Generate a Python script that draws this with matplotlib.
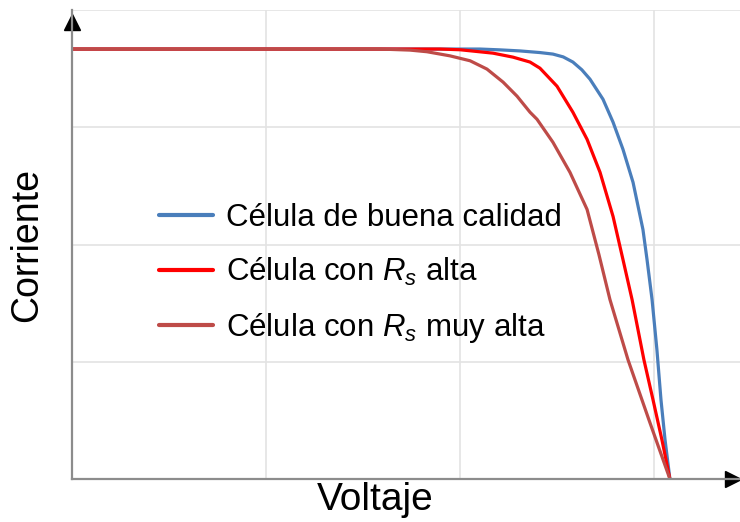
import numpy as np
import matplotlib.pyplot as plt

plt.rcParams['font.family'] = ['Liberation Sans', 'DejaVu Sans']
plt.rcParams['mathtext.fontset'] = 'custom'
plt.rcParams['mathtext.rm'] = 'Liberation Sans'
plt.rcParams['mathtext.it'] = 'Liberation Sans:italic'

# voltage / current (grid units)
v_good = [0, 2.103, 2.206, 2.309, 2.412, 2.479, 2.532, 2.582, 2.628, 2.670, 2.737, 2.789,
          2.840, 2.892, 2.943, 2.964, 2.990, 3.015, 3.036, 3.057, 3.082]
i_good = [3.667, 3.667, 3.660, 3.651, 3.637, 3.624, 3.600, 3.556, 3.490, 3.410, 3.239, 3.043,
          2.812, 2.530, 2.128, 1.872, 1.530, 1.103, 0.675, 0.333, 0.0]

v_high = [0, 1.897, 2.000, 2.170, 2.273, 2.361, 2.412, 2.500, 2.582, 2.655, 2.722,
          2.789, 2.840, 2.887, 2.948, 2.995, 3.041, 3.082]
i_high = [3.667, 3.667, 3.661, 3.632, 3.598, 3.556, 3.504, 3.350, 3.128, 2.897, 2.615,
          2.239, 1.872, 1.530, 1.017, 0.675, 0.333, 0.0]

v_very = [0, 1.588, 1.742, 1.830, 1.948, 2.052, 2.139, 2.222, 2.294, 2.361, 2.397,
          2.479, 2.567, 2.655, 2.716, 2.773, 2.866, 2.974, 3.082]
i_very = [3.667, 3.667, 3.658, 3.644, 3.609, 3.567, 3.496, 3.385, 3.265, 3.128, 3.068,
          2.872, 2.615, 2.299, 1.915, 1.530, 1.017, 0.504, 0.0]

labels = ['Célula de buena calidad', 'Célula con $R_s$ alta', 'Célula con $R_s$ muy alta']
colors = ['#4a7ebb', '#ff0000', '#be4b48']

fig = plt.figure(figsize=(7.4, 5.22), dpi=100)
ax = fig.add_axes([72/740, 43/522, 668/740, 469/522])

for v, i, lab, c in zip([v_good, v_high, v_very], [i_good, i_high, i_very], labels, colors):
    ax.plot(v, i, color=c, lw=2.3, label=lab, solid_capstyle='round', solid_joinstyle='round')

ax.set_xlim(0, 668/194)
ax.set_ylim(0, 4)
ax.set_xticks([1, 2, 3])
ax.set_yticks([1, 2, 3, 4])
ax.tick_params(length=0, labelbottom=False, labelleft=False)
ax.grid(True, color='#e3e3e3', lw=1.2)
ax.set_axisbelow(True)

for s in ['top', 'right']:
    ax.spines[s].set_visible(False)
for s in ['left', 'bottom']:
    ax.spines[s].set_color('#8c8c8c')
    ax.spines[s].set_linewidth(1.6)

# arrow heads
ax.plot(0, 457/469, marker='^', color='black', ms=11,
        transform=ax.transAxes, clip_on=False)
ax.plot(661/668, 0, marker='>', color='black', ms=11,
        transform=ax.transAxes, clip_on=False)

ax.set_xlabel('Voltaje', fontsize=28)
ax.xaxis.set_label_coords(0.454, -0.045, transform=ax.transAxes)
ax.xaxis.label.set_va('center')
ax.set_ylabel('Corriente', fontsize=27, labelpad=19.5)

leg = ax.legend(loc='center left', bbox_to_anchor=(0.088, 0.437), frameon=False,
                fontsize=22.5, handlelength=1.74, handletextpad=0.42, labelspacing=0.74)
for line in leg.get_lines():
    line.set_linewidth(3)

plt.savefig('out.png', dpi=100)
